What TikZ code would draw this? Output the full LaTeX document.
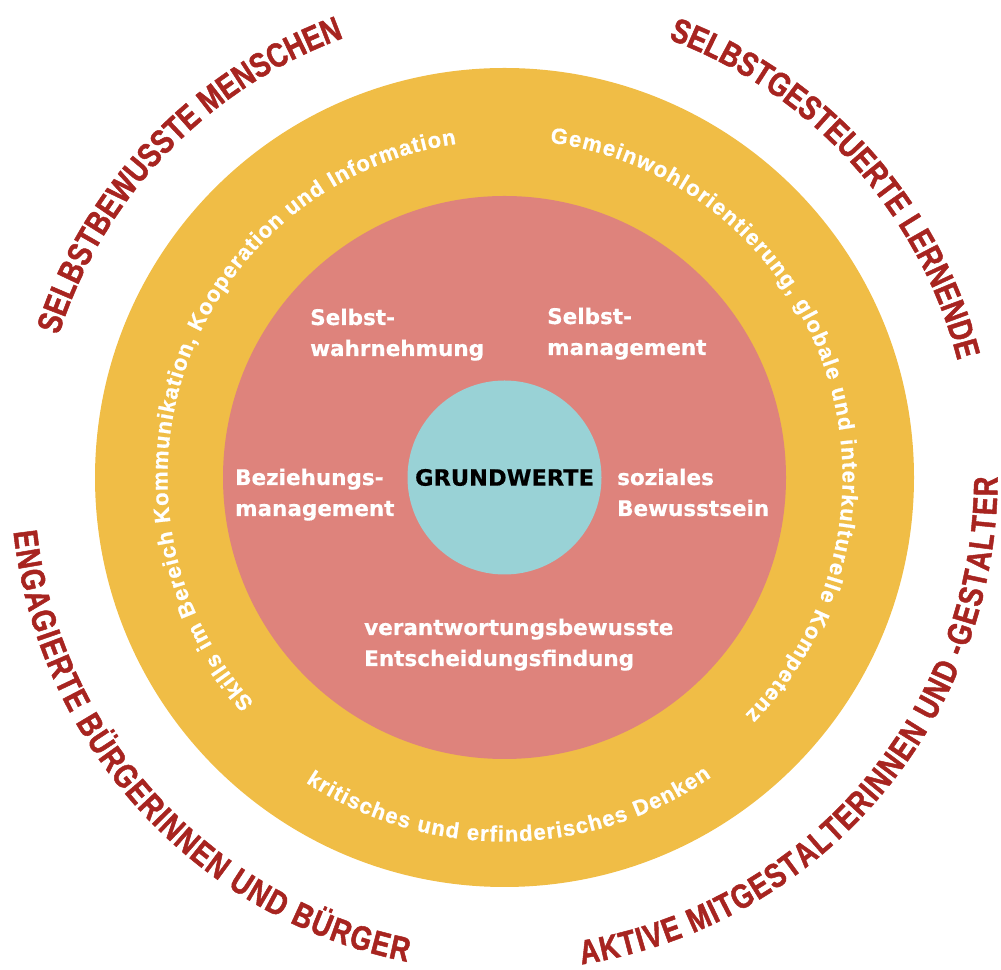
\documentclass[tikz,border=0pt]{standalone}
\usepackage{fontspec}
\usetikzlibrary{decorations.text}
\newfontfamily\dvb{DejaVu Sans Bold}[FakeBold=0.5]
\newfontfamily\lib{Liberation Sans Bold}[FakeBold=0.9]
\newfontfamily\rtf{Liberation Sans Bold}[FakeStretch=0.8, FakeBold=1.4]
\definecolor{ringY}{RGB}{240,189,70}
\definecolor{ringR}{RGB}{222,131,124}
\definecolor{ringC}{RGB}{153,210,214}
\definecolor{titleR}{RGB}{167,36,32}
\newcommand\twolines[1]{\begin{tabular}[t]{@{}l@{}}#1\end{tabular}}
\newcommand\wcurve{\lib\fontsize{22}{26}\selectfont\color{white}}
\newcommand\rcurve{\rtf\fontsize{34}{40}\selectfont\color{titleR}}
\begin{document}
\begin{tikzpicture}[x=1pt,y=1pt,
  ring/.style={circle, inner sep=0pt, draw=none},
  inlbl/.style={font=\dvb\fontsize{21.5}{31}\selectfont, text=white, inner sep=0pt, anchor=base west}]
\useasboundingbox (0,0) rectangle (1001,969);
\coordinate (C) at (504.5,491.5);
\node[ring, fill=ringY, minimum size=819pt] (outer) at (C) {};
\node[ring, fill=ringR, minimum size=563pt] (middle) at (C) {};
\node[ring, fill=ringC, minimum size=194pt, font=\dvb\fontsize{22.5}{27}\selectfont, text=black] (core) at (C) {GRUNDWERTE};

% inner labels
\node[inlbl] (swahr) at (310,644) {\twolines{Selbst-\\wahrnehmung}};
\node[inlbl] (sman) at (547,645) {\twolines{Selbst-\\management}};
\node[inlbl] (bez) at (235,484) {\twolines{Beziehungs-\\management}};
\node[inlbl] (soz) at (617,484) {\twolines{soziales\\Bewusstsein}};
\node[inlbl] (ver) at (364,334) {\twolines{verantwortungsbewusste\\Entscheidungsfindung}};

% white texts in the yellow ring
\begin{scope}
\wcurve
\path[decorate, decoration={text along path, text align=fit to path,
  text={|\wcurve|Gemeinwohlorientierung, globale und interkulturelle Kompetenz}}]
  ([shift={(82.3:338pt)}]C) arc[start angle=82.3, end angle=-44.6, radius=338pt];
\path[decorate, decoration={text along path, text align=fit to path,
  text={|\wcurve|Skills im Bereich Kommunikation, Kooperation und Information}}]
  ([shift={(222:337pt)}]C) arc[start angle=222, end angle=98.2, radius=337pt];
\path[decorate, decoration={text along path, text align=fit to path,
  text={|\wcurve|kritisches und erfinderisches Denken}}]
  ([shift={(236.9:364pt)}]C) arc[start angle=236.9, end angle=304.6, radius=364pt];
\end{scope}

% red outer titles
\begin{scope}
\rcurve
\path[decorate, decoration={text along path, text align=fit to path,
  text={|\rcurve|SELBSTBEWUSSTE MENSCHEN}}]
  ([shift={(162.3:468pt)}]C) arc[start angle=162.3, end angle=110.1, radius=468pt];
\path[decorate, decoration={text along path, text align=fit to path,
  text={|\rcurve|SELBSTGESTEUERTE LERNENDE}}]
  ([shift={(69.5:468pt)}]C) arc[start angle=69.5, end angle=14.5, radius=468pt];
\path[decorate, decoration={text along path, text align=fit to path,
  text={|\rcurve|AKTIVE MITGESTALTERINNEN UND -GESTALTER}}]
  ([shift={(-81:493pt)}]C) arc[start angle=-81, end angle=0, radius=493pt];
\path[decorate, decoration={text along path, text align=fit to path,
  text={|\rcurve|ENGAGIERTE BÜRGERINNEN UND BÜRGER}}]
  ([shift={(186.3:494pt)}]C) arc[start angle=186.3, end angle=258.6, radius=494pt];
\end{scope}
\end{tikzpicture}
\end{document}
